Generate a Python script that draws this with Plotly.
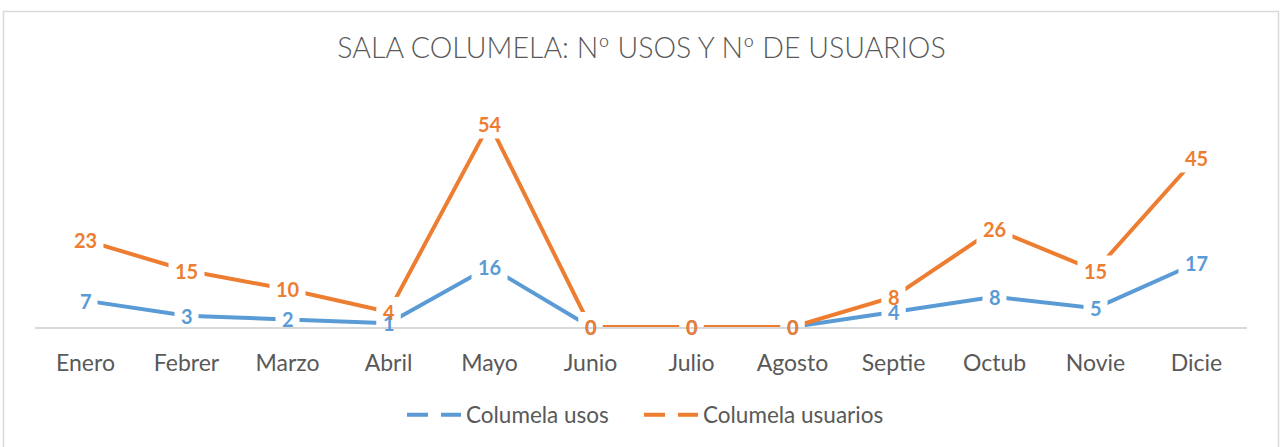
import plotly.graph_objects as go

meses = ["Enero", "Febrer", "Marzo", "Abril", "Mayo", "Junio",
         "Julio", "Agosto", "Septie", "Octub", "Novie", "Dicie"]
usos = [7, 3, 2, 1, 16, 0, 0, 0, 4, 8, 5, 17]
usuarios = [23, 15, 10, 4, 54, 0, 0, 0, 8, 26, 15, 45]

azul = "#5B9BD5"
naranja = "#ED7D31"
fuente = "Lato"

fig = go.Figure()

for nombre, valores, color in [("Columela usos", usos, azul),
                               ("Columela usuarios", usuarios, naranja)]:
    fig.add_trace(go.Scatter(x=meses, y=valores, name=nombre, mode='lines',
                             line={'color': color, 'width': 4}, showlegend=False,
                             hoverinfo='x+y'))

# legend entries drawn dashed like the original, one legend box each
for nombre, color, leg in [("Columela usos", azul, "legend"),
                           ("Columela usuarios", naranja, "legend2")]:
    fig.add_trace(go.Scatter(x=[None], y=[None], name=nombre, mode='lines', legend=leg,
                             line={'color': color, 'width': 4, 'dash': '21px,13px,20px'}))

series = [(usos, azul), (usuarios, naranja)]
# white boxes (pixel sized, anchored at each point) that cut the lines round the labels
for valores, color in series:
    for m, v in zip(meses, valores):
        hw = 6 * len(str(v)) + 6
        fig.add_shape(type="rect", xref="x", yref="y", xsizemode="pixel", ysizemode="pixel",
                      xanchor=m, yanchor=v, x0=-hw, x1=hw, y0=-15, y1=15,
                      fillcolor="white", line={'width': 0}, layer="above")
# the label texts themselves, on top of all boxes
for valores, color in series:
    for m, v in zip(meses, valores):
        fig.add_annotation(x=m, y=v, text="<b>%d</b>" % v, showarrow=False,
                           font={'family': fuente, 'size': 20, 'color': color})

# outer chart border
fig.add_shape(type="rect", xref="paper", yref="paper", x0=-0.026, x1=1.026,
              y0=-0.7, y1=1.396, line={'color': '#d9d9d9', 'width': 1.5}, layer="below")

leyenda = {'orientation': 'h', 'xref': 'container', 'xanchor': 'left',
           'yref': 'container', 'y': 1 - 415 / 447, 'yanchor': 'middle',
           'font': {'family': fuente, 'size': 22.5, 'color': '#595959'},
           'itemwidth': 54}

fig.update_layout(
    width=1283, height=447,
    margin={'l': 34.5, 'r': 35.5, 't': 101.4, 'b': 120, 'autoexpand': False},
    paper_bgcolor="white", plot_bgcolor="white",
    title={'text': "SALA COLUMELA: Nº USOS Y Nº DE USUARIOS", 'x': 0.5, 'xanchor': 'center',
           'y': 1 - 48 / 447, 'yanchor': 'middle',
           'font': {'family': fuente, 'size': 28.5, 'color': '#595959', 'weight': 300}},
    font={'family': fuente, 'color': '#595959'},
    xaxis={'range': [-0.5, 11.5], 'showgrid': False, 'showline': True,
           'linecolor': '#d9d9d9', 'linewidth': 1.5,
           'ticks': 'outside', 'ticklen': 15, 'tickcolor': 'rgba(0,0,0,0)',
           'tickfont': {'family': fuente, 'size': 23, 'color': '#595959'}},
    yaxis={'range': [0, 60], 'visible': False, 'showgrid': False, 'zeroline': False},
    legend=dict(leyenda, x=402 / 1283),
    legend2=dict(leyenda, x=639 / 1283),
)

fig.write_html("out.html", config={'displayModeBar': False},
               post_script="document.body.style.margin='0';")
